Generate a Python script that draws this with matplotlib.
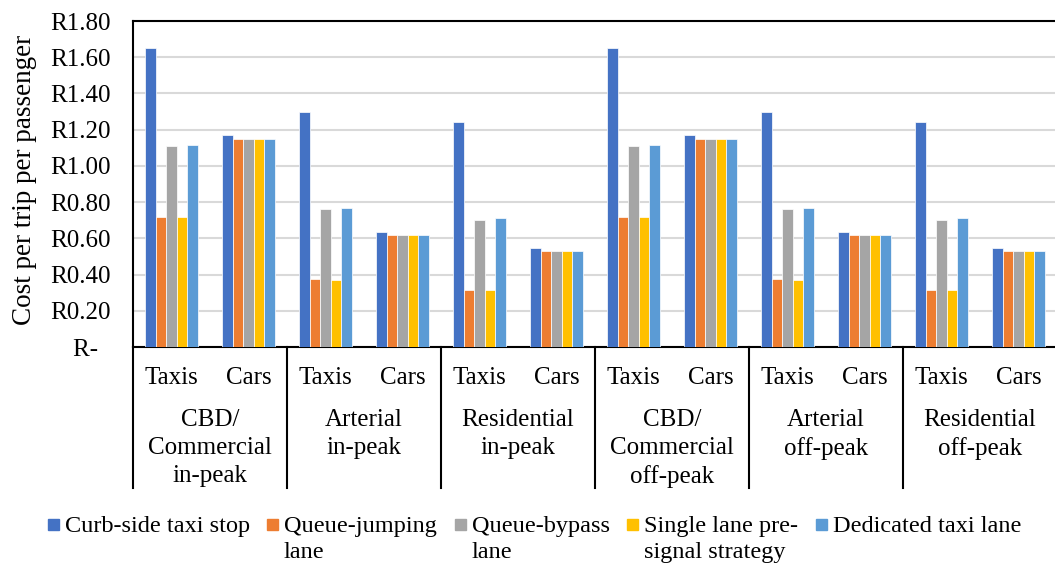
import matplotlib
matplotlib.use('Agg')
import matplotlib.pyplot as plt
import matplotlib.transforms as mtransforms
from matplotlib.patches import Rectangle
import numpy as np

plt.rcParams['font.family'] = ['Liberation Serif', 'DejaVu Serif']

# data
categories = ['Taxis', 'Cars', 'Taxis', 'Cars', 'Taxis', 'Cars',
              'Taxis', 'Cars', 'Taxis', 'Cars', 'Taxis', 'Cars']
groups = ['CBD/\nCommercial\nin-peak', 'Arterial\nin-peak', 'Residential\nin-peak',
          'CBD/\nCommercial\noff-peak', 'Arterial\noff-peak', 'Residential\noff-peak']
series = ['Curb-side taxi stop', 'Queue-jumping\nlane', 'Queue-bypass\nlane',
          'Single lane pre-\nsignal strategy', 'Dedicated taxi lane']
curb_side = [1.65, 1.17, 1.30, 0.635, 1.24, 0.545, 1.65, 1.17, 1.30, 0.635, 1.24, 0.545]
queue_jumping = [0.72, 1.15, 0.375, 0.62, 0.315, 0.53, 0.72, 1.15, 0.375, 0.62, 0.315, 0.53]
queue_bypass = [1.11, 1.15, 0.76, 0.62, 0.70, 0.53, 1.11, 1.15, 0.76, 0.62, 0.70, 0.53]
single_lane = [0.72, 1.15, 0.37, 0.62, 0.315, 0.53, 0.72, 1.15, 0.37, 0.62, 0.315, 0.53]
dedicated = [1.115, 1.15, 0.77, 0.62, 0.71, 0.53, 1.115, 1.15, 0.77, 0.62, 0.71, 0.53]
yticks = [0, 0.2, 0.4, 0.6, 0.8, 1.0, 1.2, 1.4, 1.6, 1.8]
ytick_labels = ['R-  ', 'R0.20', 'R0.40', 'R0.60', 'R0.80', 'R1.00',
                'R1.20', 'R1.40', 'R1.60', 'R1.80']

colors = ['#4472C4', '#ED7D31', '#A5A5A5', '#FFC000', '#5B9BD5']
values = [curb_side, queue_jumping, queue_bypass, single_lane, dedicated]

fig = plt.figure(figsize=(10.55, 5.63), dpi=100)
W, H = 1055, 563
ax = fig.add_axes([133 / W, 1 - 347 / H, 924 / W, 326 / H])

x = np.arange(len(categories))
bw = 0.138
for i, (vals, c) in enumerate(zip(values, colors)):
    ax.bar(x + (i - 2) * bw, vals, bw, color=c, edgecolor='white', linewidth=0.5, zorder=3)

ax.set_xlim(-0.5, len(categories) - 0.5)
ax.set_ylim(0, 1.8)
ax.set_yticks(yticks)
ax.set_yticklabels(ytick_labels, fontsize=18)
ax.tick_params(axis='y', length=0, pad=16)
ax.yaxis.grid(True, color='#D9D9D9', linewidth=1.5, zorder=0)
ax.set_axisbelow(True)

ax.set_xticks(x)
ax.set_xticklabels(categories, fontsize=18)
ax.tick_params(axis='x', length=0, pad=14.5)

for s in ['left', 'top', 'bottom']:
    ax.spines[s].set_color('black')
    ax.spines[s].set_linewidth(1.5)
ax.spines['right'].set_visible(False)

# group labels and separators
trans = mtransforms.blended_transform_factory(ax.transData, ax.transAxes)
for g, name in enumerate(groups):
    ax.plot([2 * g - 0.5, 2 * g - 0.5], [0, -141 / 326], transform=trans,
            color='black', lw=1.5, clip_on=False)
    ax.annotate(name, xy=(2 * g + 0.5, 0), xycoords=trans, xytext=(0, -44.5),
                textcoords='offset points', ha='center', va='top', fontsize=18,
                linespacing=1.36)

fig.text(25 / W, 1 - 180 / H, 'Cost per trip per passenger', rotation=90,
         ha='center', va='center', fontsize=19.5)

# legend
leg_x = [48, 267, 455, 627, 816]
for lx, name, c in zip(leg_x, series, colors):
    fig.patches.append(Rectangle((lx / W, 1 - 530 / H), 11 / W, 11 / H,
                                 transform=fig.transFigure, color=c))
    fig.text((lx + 17) / W, 1 - 516 / H, name, ha='left', va='top',
             fontsize=17.5, linespacing=1.29)

plt.savefig('out.png', dpi=100)
